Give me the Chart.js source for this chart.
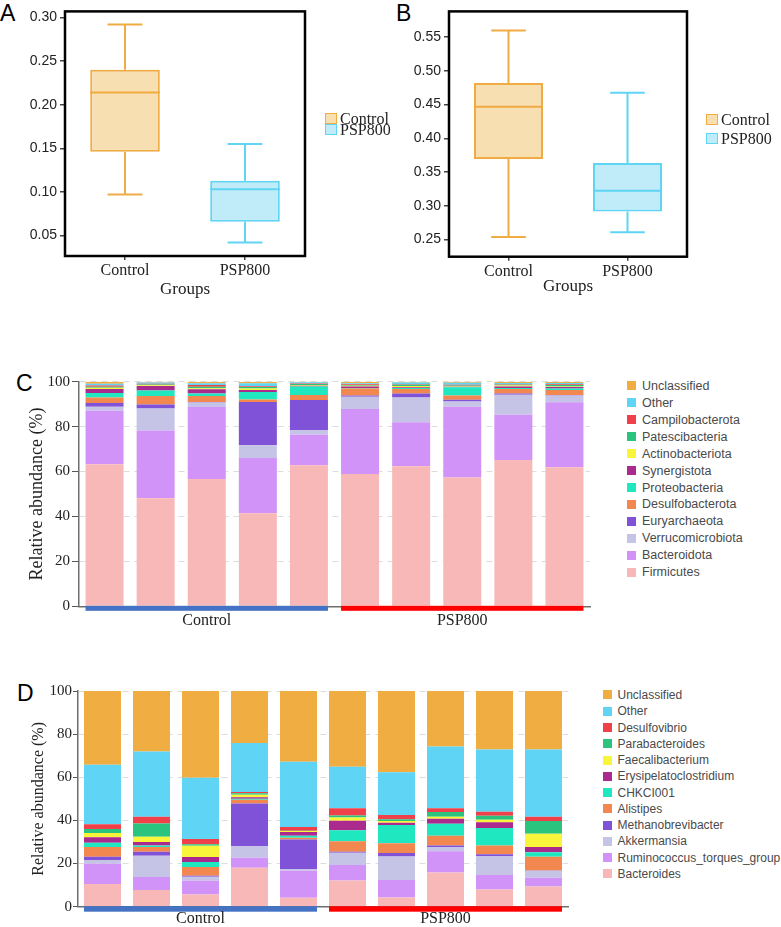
<!DOCTYPE html>
<html>
<head>
<meta charset="utf-8">
<script src="https://cdn.jsdelivr.net/npm/chart.js@4.4.1/dist/chart.umd.min.js"></script>
<style>
  body { margin: 0; background: #fff; }
  #page { position: relative; width: 781px; height: 927px; overflow: hidden; }
  canvas { position: absolute; }
  .letter { position: absolute; font: 23px "Liberation Sans", Arial, sans-serif; line-height: 1; color: #000; }
  .row { position: absolute; display: flex; align-items: center; white-space: nowrap; }
  .sw { flex: none; box-sizing: border-box; }
</style>
</head>
<body>
<div id="page">
  <div class="letter" style="left:0;top:2px">A</div>
  <div class="letter" style="left:396px;top:2px">B</div>
  <div class="letter" style="left:16px;top:372px">C</div>
  <div class="letter" style="left:17px;top:682px">D</div>
  <canvas id="chartA" width="390" height="300" style="left:0;top:0"></canvas>
  <canvas id="chartB" width="391" height="300" style="left:390px;top:0"></canvas>
  <canvas id="chartC" width="600" height="290" style="left:0;top:340px"></canvas>
  <canvas id="chartD" width="600" height="277" style="left:0;top:650px"></canvas>
  <div id="legA"></div>
  <div id="legB"></div>
  <div id="legC"></div>
  <div id="legD"></div>
</div>
<script>
const SERIF = '"Liberation Serif", "Times New Roman", serif';
const SANS = '"Liberation Sans", Arial, sans-serif';

// ── A / B : alpha diversity box plots ─────────────────────────
const boxGroups = ['Control', 'PSP800'];
const boxFill = ['#f8dfb1', '#c0ebf8'];
const boxLine = ['#f0ab43', '#5fd5f3'];

const aLow  = [0.097, 0.042];
const aQ1   = [0.146, 0.066];
const aMed  = [0.214, 0.103];
const aQ3   = [0.240, 0.113];
const aHigh = [0.292, 0.155];
const aTicks = [0.05, 0.10, 0.15, 0.20, 0.25, 0.30];

const bLow  = [0.254, 0.261];
const bQ1   = [0.3695, 0.2917];
const bMed  = [0.4466, 0.3222];
const bQ3   = [0.482, 0.3636];
const bHigh = [0.5596, 0.4675];
const bTicks = [0.25, 0.30, 0.35, 0.40, 0.45, 0.50, 0.55];

// ── C : phylum level (stack order, bottom first) ──────────────
const samples = ['C1', 'C2', 'C3', 'C4', 'C5', 'P1', 'P2', 'P3', 'P4', 'P5'];
const groupNames = ['Control', 'PSP800'];
const groupSizes = [5, 5];
const groupColors = ['#4472c4', '#ff0000'];

const firmicutes        = [63.2, 48.1, 56.7, 41.4, 62.8, 58.9, 62.3, 57.4, 65.1, 61.9];
const bacteroidota      = [23.9, 30.2, 32.0, 24.6, 13.6, 28.9, 19.6, 31.5, 20.2, 28.9];
const verrucomicrobiota = [1.8, 9.8, 2.0, 5.7, 2.1, 5.5, 11.1, 2.3, 8.9, 3.1];
const euryarchaeota     = [1.6, 1.7, 0.3, 19.3, 13.3, 0.6, 1.8, 0.8, 0.6, 0.2];
const desulfobacterota  = [2.5, 3.8, 2.6, 1.1, 2.3, 3.1, 1.9, 1.9, 1.9, 2.2];
const proteobacteria    = [2.0, 2.5, 1.1, 3.3, 3.8, 0.2, 0.5, 3.6, 0.5, 0.7];
const synergistota      = [1.7, 2.0, 1.9, 0.9, 0.3, 0.7, 0.3, 0.2, 0.7, 0.6];
const actinobacteriota  = [0.6, 0.3, 0.5, 0.7, 0.3, 0.3, 0.6, 0.3, 0.4, 0.3];
const patescibacteria   = [0.5, 0.3, 0.6, 0.6, 0.5, 0.3, 0.5, 0.3, 0.3, 0.6];
const campilobacterota  = [0.5, 0.4, 0.8, 0.4, 0.2, 0.4, 0.3, 0.3, 0.3, 0.4];
const otherPhyla        = [0.8, 0.5, 0.8, 1.3, 0.5, 0.4, 0.7, 0.9, 0.5, 0.5];
const unclassPhyla      = [0.9, 0.4, 0.7, 0.7, 0.3, 0.7, 0.4, 0.5, 0.6, 0.6];

const phylumNames = ['Firmicutes', 'Bacteroidota', 'Verrucomicrobiota', 'Euryarchaeota',
  'Desulfobacterota', 'Proteobacteria', 'Synergistota', 'Actinobacteriota',
  'Patescibacteria', 'Campilobacterota', 'Other', 'Unclassified'];
const phylumValues = [firmicutes, bacteroidota, verrucomicrobiota, euryarchaeota,
  desulfobacterota, proteobacteria, synergistota, actinobacteriota,
  patescibacteria, campilobacterota, otherPhyla, unclassPhyla];

// ── D : genus level (stack order, bottom first) ───────────────
const bacteroides            = [10.5, 7.7, 5.6, 18.1, 4.2, 12.1, 4.3, 15.9, 8.0, 9.4];
const ruminococcusTorques    = [9.4, 6.1, 6.4, 4.6, 12.5, 7.2, 8.1, 9.8, 6.7, 4.0];
const akkermansia            = [1.7, 9.8, 1.9, 5.4, 0.8, 5.7, 10.9, 2.0, 8.8, 3.3];
const methanobrevibacter     = [1.6, 1.9, 0.5, 19.7, 13.7, 0.5, 1.6, 0.7, 0.8, 0.1];
const alistipes              = [4.5, 2.2, 4.0, 1.8, 0.8, 4.8, 4.5, 4.5, 4.1, 6.4];
const chkci001               = [2.0, 0.7, 2.3, 0.5, 0.9, 5.2, 8.5, 5.6, 8.1, 2.0];
const erysipelatoclostridium = [2.5, 1.6, 2.3, 0.6, 1.7, 4.3, 1.0, 2.3, 2.6, 2.5];
const faecalibacterium       = [2.0, 2.4, 5.3, 1.2, 0.5, 1.6, 0.8, 0.9, 1.2, 6.1];
const parabacteroides        = [1.8, 6.2, 0.6, 0.7, 0.1, 0.9, 0.9, 2.2, 1.9, 5.9];
const desulfovibrio          = [2.2, 3.1, 2.5, 0.6, 1.7, 3.3, 1.9, 1.7, 1.8, 2.0];
const otherGenera            = [27.6, 30.3, 28.4, 22.7, 30.3, 19.3, 19.8, 28.7, 28.9, 31.2];
const unclassGenera          = [34.2, 28.0, 40.2, 24.1, 32.8, 35.1, 37.7, 25.7, 27.1, 27.1];

const genusNames = ['Bacteroides', 'Ruminococcus_torques_group', 'Akkermansia', 'Methanobrevibacter',
  'Alistipes', 'CHKCI001', 'Erysipelatoclostridium', 'Faecalibacterium',
  'Parabacteroides', 'Desulfovibrio', 'Other', 'Unclassified'];
const genusValues = [bacteroides, ruminococcusTorques, akkermansia, methanobrevibacter,
  alistipes, chkci001, erysipelatoclostridium, faecalibacterium,
  parabacteroides, desulfovibrio, otherGenera, unclassGenera];

const abundanceTicks = [0, 20, 40, 60, 80, 100];

// shared palette, same order as the stacks
const taxaColors = ['#f9b8b8', '#d293f8', '#c6c4e6', '#7f52d7', '#f2884f', '#1fe8c1',
  '#ab2a8e', '#f9f53b', '#2bc47f', '#f0404a', '#5fd4f5', '#f0ad42'];

// ── plugins ───────────────────────────────────────────────────
function makeWhiskers(st) {
  return {
    id: 'whiskers',
    afterDatasetsDraw(chart) {
      const { ctx, scales: { y } } = chart;
      chart.getDatasetMeta(0).data.forEach((bar, i) => {
        const half = bar.width / 4;
        const yLo = y.getPixelForValue(st.low[i]);
        const yHi = y.getPixelForValue(st.high[i]);
        ctx.save();
        ctx.strokeStyle = boxLine[i];
        ctx.lineWidth = 2;
        ctx.beginPath();
        ctx.moveTo(bar.x, y.getPixelForValue(st.q3[i])); ctx.lineTo(bar.x, yHi);
        ctx.moveTo(bar.x - half, yHi); ctx.lineTo(bar.x + half, yHi);
        ctx.moveTo(bar.x, y.getPixelForValue(st.q1[i])); ctx.lineTo(bar.x, yLo);
        ctx.moveTo(bar.x - half, yLo); ctx.lineTo(bar.x + half, yLo);
        const yM = y.getPixelForValue(st.med[i]);
        ctx.moveTo(bar.x - bar.width / 2, yM); ctx.lineTo(bar.x + bar.width / 2, yM);
        ctx.stroke();
        ctx.restore();
      });
    },
  };
}

const framePlugin = {
  id: 'frame',
  afterDraw(chart) {
    const { ctx, chartArea: a } = chart;
    ctx.save();
    ctx.strokeStyle = '#000';
    ctx.lineWidth = 2.5;
    ctx.strokeRect(a.left, a.top, a.right - a.left, a.bottom - a.top);
    ctx.restore();
  },
};

function makeGroupBars(barH, labelOffset) {
  return {
    id: 'groupBars',
    afterDraw(chart) {
      const { ctx, chartArea } = chart;
      const meta = chart.getDatasetMeta(0);
      let start = 0;
      groupNames.forEach((name, g) => {
        const first = meta.data[start];
        const last = meta.data[start + groupSizes[g] - 1];
        const x1 = first.x - first.width / 2;
        const x2 = last.x + last.width / 2;
        ctx.save();
        ctx.fillStyle = groupColors[g];
        ctx.fillRect(x1, chartArea.bottom - 0.5, x2 - x1, barH);
        ctx.fillStyle = '#222';
        ctx.font = '16px ' + SERIF;
        ctx.textAlign = 'center';
        ctx.textBaseline = 'middle';
        ctx.fillText(name, (x1 + x2) / 2, chartArea.bottom + labelOffset);
        ctx.restore();
        start += groupSizes[g];
      });
    },
  };
}

// ── chart builders ────────────────────────────────────────────
function makeBoxChart(canvasId, st, ticks, yMin, yMax, lay) {
  return new Chart(document.getElementById(canvasId), {
    type: 'bar',
    data: {
      labels: boxGroups,
      datasets: [{
        data: boxGroups.map((g, i) => [st.q1[i], st.q3[i]]),
        backgroundColor: boxFill,
        borderColor: boxLine,
        borderWidth: 2,
        borderSkipped: false,
        barPercentage: 0.58,
        categoryPercentage: 1,
      }],
    },
    options: {
      responsive: false,
      animation: false,
      devicePixelRatio: 1,
      layout: { padding: { top: lay.top, right: lay.right, left: 0, bottom: 0 } },
      plugins: { legend: { display: false }, tooltip: { enabled: false } },
      scales: {
        x: {
          grid: { offset: false, drawOnChartArea: false, tickLength: 4, color: '#444', lineWidth: 1.5 },
          border: { display: false },
          ticks: { color: '#222', padding: 1, font: { family: SERIF, size: 16 } },
          title: { display: true, text: 'Groups', color: '#222',
                   font: { family: SERIF, size: 17 }, padding: { top: 0, bottom: lay.titlePad } },
          afterFit: s => { s.height = lay.xHeight; },
        },
        y: {
          min: yMin,
          max: yMax,
          afterBuildTicks: s => { s.ticks = ticks.map(v => ({ value: v })); },
          grid: { drawOnChartArea: false, tickLength: 5, color: '#444', lineWidth: 1.5 },
          border: { display: false },
          ticks: { color: '#222', padding: 3, font: { family: SANS, size: 14 },
                   callback: v => v.toFixed(2) },
          afterFit: s => { s.width = lay.yWidth; },
        },
      },
    },
    plugins: [makeWhiskers(st), framePlugin],
  });
}

function makeStackChart(canvasId, names, values, lay) {
  return new Chart(document.getElementById(canvasId), {
    type: 'bar',
    data: {
      labels: samples,
      datasets: names.map((n, k) => ({
        label: n,
        data: values[k],
        backgroundColor: taxaColors[k],
        borderWidth: 0,
        barPercentage: lay.barPct,
        categoryPercentage: 1,
      })),
    },
    options: {
      responsive: false,
      animation: false,
      devicePixelRatio: 1,
      layout: { padding: { top: lay.top, right: lay.right, left: 0, bottom: 0 } },
      plugins: { legend: { display: false }, tooltip: { enabled: false } },
      scales: {
        x: {
          stacked: true,
          grid: { display: false },
          ticks: { display: false },
          border: { color: '#6e6e6e', width: 1.5 },
          afterFit: s => { s.height = lay.xHeight; },
        },
        y: {
          stacked: true,
          min: 0,
          max: 100,
          afterBuildTicks: s => { s.ticks = abundanceTicks.map(v => ({ value: v })); },
          grid: { color: '#dcdcdc', lineWidth: 1, tickColor: '#555', tickLength: lay.tickLen },
          border: { color: '#6e6e6e', width: 1.5, dash: [6, 5] },
          ticks: { color: '#222', padding: lay.tickPad, font: { family: SERIF, size: 15 } },
          title: { display: true, text: 'Relative abundance (%)', color: '#222',
                   font: { family: SERIF, size: lay.titleSize }, padding: { top: lay.titlePad, bottom: 0 } },
          afterFit: s => { s.width = lay.yWidth; },
        },
      },
    },
    plugins: [makeGroupBars(lay.groupBarH, lay.labelOffset)],
  });
}

// ── HTML legends ──────────────────────────────────────────────
function addRow(parent, x, yCenter, rowH, sw, text, font, color) {
  const row = document.createElement('div');
  row.className = 'row';
  row.style.left = x + 'px';
  row.style.top = (yCenter - rowH / 2) + 'px';
  row.style.height = rowH + 'px';
  row.style.font = font;
  row.style.color = color;
  const box = document.createElement('div');
  box.className = 'sw';
  Object.assign(box.style, sw);
  const label = document.createElement('span');
  label.textContent = text;
  row.appendChild(box);
  row.appendChild(label);
  parent.appendChild(row);
}

function boxLegend(elId, x, y0, step) {
  const el = document.getElementById(elId);
  boxGroups.forEach((g, i) => addRow(el, x, y0 + i * step, step, {
    width: '12px', height: '11px', marginRight: '3px',
    background: boxFill[i], border: '1.5px solid ' + boxLine[i],
  }, g, '16px ' + SERIF, '#222'));
}

function taxaLegend(elId, names, x, y0, step, textGap, fontSize) {
  const el = document.getElementById(elId);
  const rev = names.map((n, k) => k).reverse();
  rev.forEach((k, r) => addRow(el, x, y0 + r * step, step, {
    width: '9px', height: '9px', marginRight: textGap + 'px', background: taxaColors[k],
  }, names[k], fontSize + 'px ' + SANS, '#4a4a4a'));
}

// ── render ────────────────────────────────────────────────────
makeBoxChart('chartA', { low: aLow, q1: aQ1, med: aMed, q3: aQ3, high: aHigh }, aTicks, 0.0266, 0.307,
  { top: 5, right: 85, yWidth: 65, xHeight: 44, titlePad: 0 });
makeBoxChart('chartB', { low: bLow, q1: bQ1, med: bMed, q3: bQ3, high: bHigh }, bTicks, 0.2247, 0.5879,
  { top: 7.3, right: 94, yWidth: 59, xHeight: 43.3, titlePad: 3 });

makeStackChart('chartC', phylumNames, phylumValues,
  { top: 41.7, right: 10, yWidth: 79, xHeight: 23.7, barPct: 0.744, tickLen: 7, tickPad: 2,
    titleSize: 18, titlePad: 26, groupBarH: 5, labelOffset: 14 });
makeStackChart('chartD', genusNames, genusValues,
  { top: 41, right: 32, yWidth: 78, xHeight: 20.3, barPct: 0.755, tickLen: 5, tickPad: 1,
    titleSize: 16, titlePad: 28.7, groupBarH: 5.5, labelOffset: 12 });

boxLegend('legA', 325, 118.5, 11.3);
boxLegend('legB', 706, 119.7, 19);
taxaLegend('legC', phylumNames, 627, 385.7, 16.97, 6, 12.5);
taxaLegend('legD', genusNames, 603, 695, 16.27, 5.5, 12);
</script>
</body>
</html>
